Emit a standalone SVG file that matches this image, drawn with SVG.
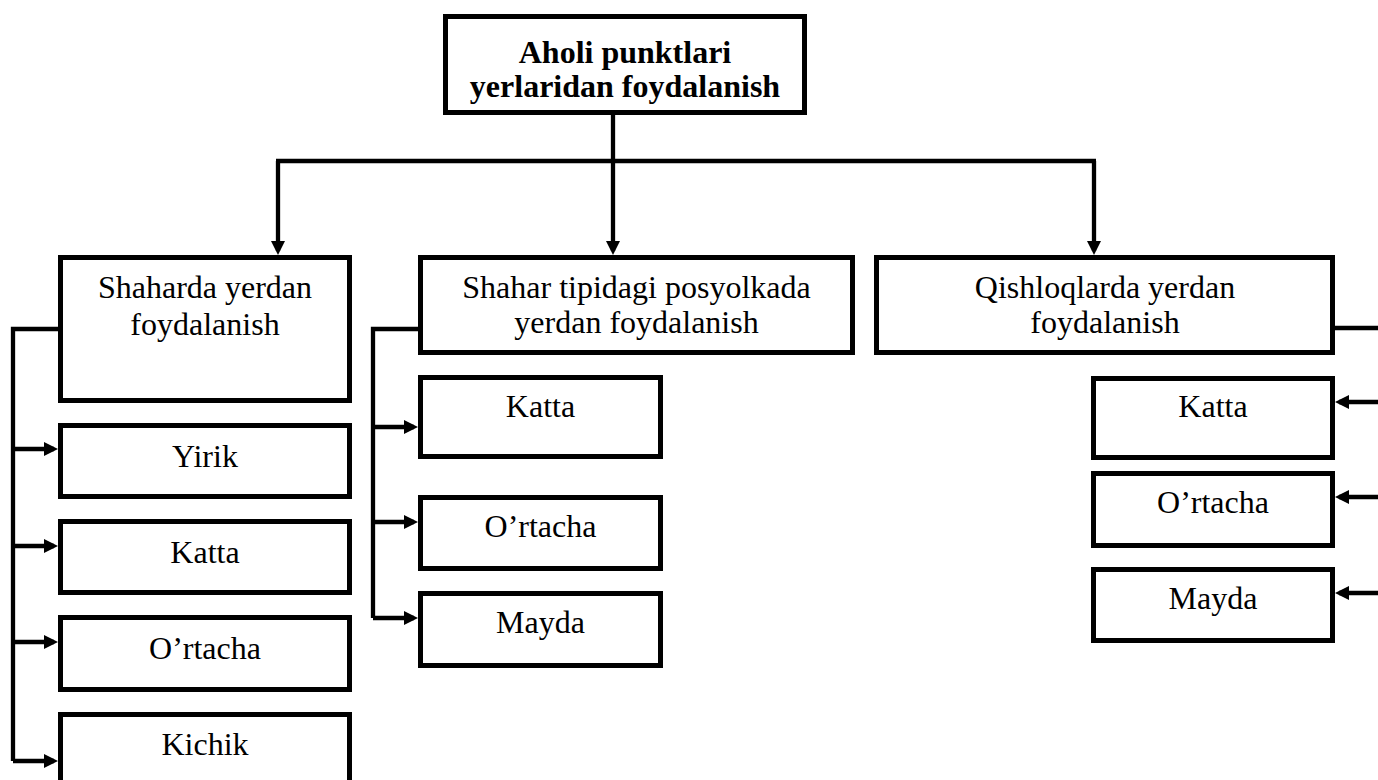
<svg xmlns="http://www.w3.org/2000/svg" width="1378" height="780" viewBox="0 0 1378 780">
<style>
.box{fill:#fff;stroke:#000;stroke-width:5}
.ln{fill:none;stroke:#000;stroke-width:4.3}
.ar{fill:none;stroke:#000;stroke-width:4.3;marker-end:url(#ah)}
text{font-family:"Liberation Serif","Times New Roman",serif;font-size:32px;fill:#000;text-anchor:middle}
.b{font-weight:bold}
</style>
<defs>
<marker id="ah" viewBox="0 0 14 14" refX="10" refY="7" markerWidth="14" markerHeight="14" markerUnits="userSpaceOnUse" orient="auto">
<path d="M0,0 L14,7 L0,14 z" fill="#000"/>
</marker>
</defs>
<rect width="1378" height="780" fill="#fff"/>
<g id="connectors">
<path class="ln" d="M613,115 V161"/>
<path class="ln" d="M276,161 H1096"/>
<path class="ar" d="M278,161 V251"/>
<path class="ar" d="M613,161 V251"/>
<path class="ar" d="M1094,161 V251"/>
<path class="ln" d="M58,329 H13 V761"/>
<path class="ar" d="M13,449 H54"/>
<path class="ar" d="M13,546 H54"/>
<path class="ar" d="M13,642 H54"/>
<path class="ar" d="M13,761 H54"/>
<path class="ln" d="M418,329 H373 V618"/>
<path class="ar" d="M373,427 H414"/>
<path class="ar" d="M373,522 H414"/>
<path class="ar" d="M373,618 H414"/>
<path class="ln" d="M1335,328 H1380"/>
<path class="ar" d="M1380,402 H1339"/>
<path class="ar" d="M1380,497 H1339"/>
<path class="ar" d="M1380,593 H1339"/>
</g>
<g id="root"><rect class="box" x="445.5" y="16.5" width="359" height="96"/><text class="b" x="625" y="63">Aholi punktlari</text><text class="b" x="625" y="97">yerlaridan foydalanish</text></g>
<g id="shahar"><rect class="box" x="60.5" y="257.5" width="289" height="143"/><text x="205" y="298">Shaharda yerdan</text><text x="205" y="335">foydalanish</text></g>
<g id="shahar-yirik"><rect class="box" x="60.5" y="425.5" width="289" height="71"/><text x="205" y="467">Yirik</text></g>
<g id="shahar-katta"><rect class="box" x="60.5" y="521.5" width="289" height="71"/><text x="205" y="563">Katta</text></g>
<g id="shahar-ortacha"><rect class="box" x="60.5" y="617.5" width="289" height="72"/><text x="205" y="659">O’rtacha</text></g>
<g id="shahar-kichik"><rect class="box" x="60.5" y="714.5" width="289" height="90"/><text x="205" y="755">Kichik</text></g>
<g id="posyolka"><rect class="box" x="420.5" y="257.5" width="432" height="95"/><text x="636.5" y="298">Shahar tipidagi posyolkada</text><text x="636.5" y="333">yerdan foydalanish</text></g>
<g id="posyolka-katta"><rect class="box" x="420.5" y="377.5" width="240" height="79"/><text x="540.5" y="417">Katta</text></g>
<g id="posyolka-ortacha"><rect class="box" x="420.5" y="497.5" width="240" height="71"/><text x="540.5" y="537">O’rtacha</text></g>
<g id="posyolka-mayda"><rect class="box" x="420.5" y="593.5" width="240" height="72"/><text x="540.5" y="633">Mayda</text></g>
<g id="qishloq"><rect class="box" x="876.5" y="257.5" width="456" height="95"/><text x="1105" y="298">Qishloqlarda yerdan</text><text x="1105" y="333">foydalanish</text></g>
<g id="qishloq-katta"><rect class="box" x="1093.5" y="378.5" width="239" height="79"/><text x="1213" y="417">Katta</text></g>
<g id="qishloq-ortacha"><rect class="box" x="1093.5" y="473.5" width="239" height="72"/><text x="1213" y="513">O’rtacha</text></g>
<g id="qishloq-mayda"><rect class="box" x="1093.5" y="569.5" width="239" height="71"/><text x="1213" y="609">Mayda</text></g>
</svg>
